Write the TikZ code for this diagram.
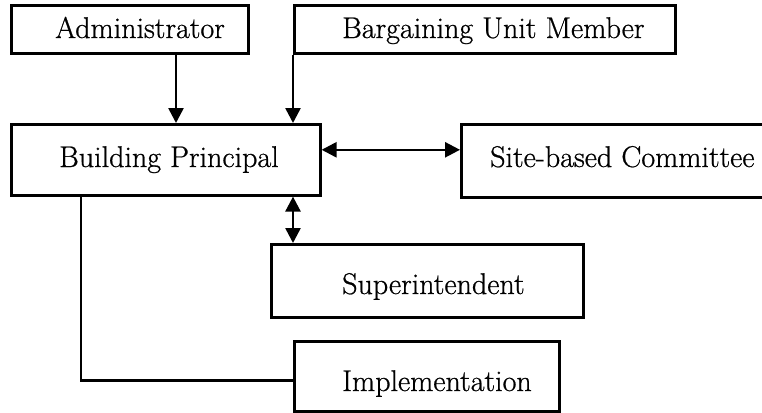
\documentclass[tikz,border=0pt]{standalone}
\usepackage{fontspec}
\newfontfamily\lblfont{Latin Modern Roman}[FakeBold=0.7]
\usetikzlibrary{arrows.meta,calc}
\begin{document}
\begin{tikzpicture}[x=1pt,y=-1pt,
  boxnode/.style={draw,line width=2.6pt,rectangle,inner sep=0pt,anchor=north west},
  lbl/.style={anchor=base west,inner sep=0pt,font=\lblfont\fontsize{30}{32}\selectfont},
  conn/.style={line width=2.6pt},
  arr/.style={conn,-{Triangle[length=15pt,width=15pt]}},
  darr/.style={conn,{Triangle[length=15pt,width=15pt]}-{Triangle[length=15pt,width=15pt]}}]
\useasboundingbox (0,0) rectangle (762,412);
% boxes
\node[boxnode,minimum width=237pt,minimum height=48pt] (admin) at (10,4) {};
\node[boxnode,minimum width=381pt,minimum height=48pt] (bum) at (293,4) {};
\node[boxnode,minimum width=309pt,minimum height=71pt] (bp) at (10,123) {};
\node[boxnode,minimum width=320pt,minimum height=73pt] (sbc) at (460,123) {};
\node[boxnode,minimum width=312pt,minimum height=73pt] (sup) at (270,243) {};
\node[boxnode,minimum width=265pt,minimum height=70pt] (impl) at (293,340) {};
% labels
\node[lbl] (tadmin) at (55,38) {Administrator};
\node[lbl] (tbum) at (342,38) {Bargaining Unit Member};
\node[lbl] (tbp) at (59,167) {Building Principal};
\node[lbl] (tsbc) at (490,167) {Site-based Committee};
\node[lbl] (tsup) at (342,294) {Superintendent};
\node[lbl] (timpl) at (342,391) {Implementation};
% connectors
\draw[arr] ([xshift=166pt]admin.south west) -- ([xshift=166pt]admin.south west |- bp.north);
\draw[arr] (bum.south west) -- (bum.south west |- bp.north);
\draw[darr] ([yshift=10pt]bp.east) -- ([yshift=10pt]bp.east -| sbc.west);
\draw[darr] ([xshift=23pt]sup.north west |- bp.south) -- ([xshift=23pt]sup.north west);
\draw[conn] ([xshift=71pt]bp.south west) |- ([yshift=-4pt]impl.west);
\end{tikzpicture}
\end{document}
